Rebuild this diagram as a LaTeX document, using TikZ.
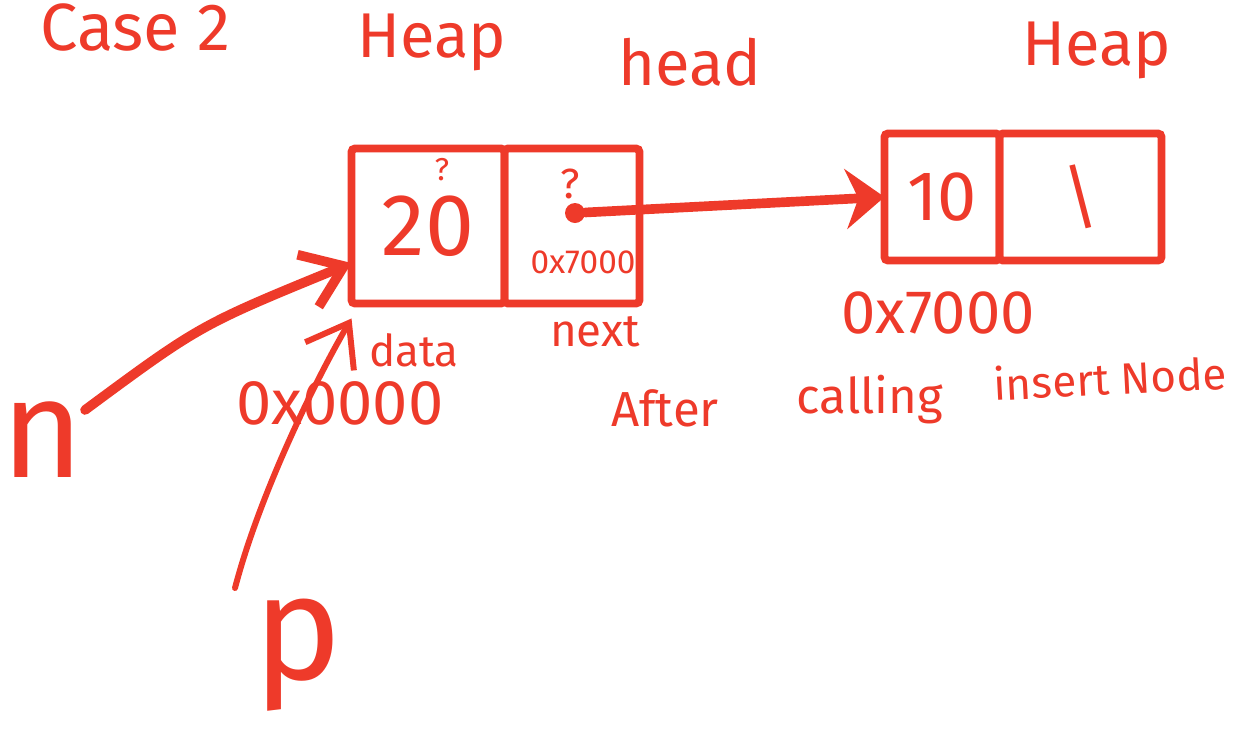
\documentclass[tikz,border=0pt]{standalone}
\usepackage{fontspec}
\setmainfont{Fira Sans}
\usepackage{xcolor}
\usepackage{tikz}
\usetikzlibrary{arrows.meta, positioning}
\definecolor{ink}{RGB}{238,58,42}
\tikzset{
    field/.style={rectangle, draw=ink, line width=4.5pt, rounded corners=2pt, inner sep=0pt, outer sep=0pt, text=ink},
    scrawl/.style={text=ink, inner sep=0pt, font=\fontsize{#1}{#1}\selectfont},
    ptrdot/.style={circle, fill=ink, minimum size=0.4cm, inner sep=0pt},
    link/.style={draw=ink, line width=5.5pt, line cap=round, -{Stealth[length=22pt, width=34pt]}},
    pointer/.style={draw=ink, line width=#1, line cap=round, -{Straight Barb[length=22pt, width=32pt]}}
}

\begin{document}
\begin{tikzpicture}[x=0.02cm, y=-0.02cm]
    \useasboundingbox (0,0) rectangle (1243,728);

    % Title
    \node[scrawl=38, anchor=base west] (title) at (40,50) {Case 2};

    % Head node
    \node[field, scrawl=50, minimum width=3.06cm, minimum height=3.1cm] (headdata) at (428,226) {20};
    \node[field, minimum width=2.7cm, minimum height=3.1cm, right=0pt of headdata] (headnext) {};
    \node[scrawl=18] (dataq) at (442,170) {?};
    \node[scrawl=24] (nextq) at (570,184) {?};
    \node[ptrdot] (headptr) at (575,213) {};
    \node[scrawl=19] (headaddr) at (583,262) {0x7000};

    % New node
    \node[field, scrawl=40, minimum width=2.3cm, minimum height=2.54cm] (newdata) at (942,197) {10};
    \node[field, scrawl=40, minimum width=3.24cm, minimum height=2.54cm, right=0pt of newdata] (newnext) {\textbackslash};

    % Labels
    \node[scrawl=36] (heapone) at (432,42) {Heap};
    \node[scrawl=36] (headlabel) at (690,62) {head};
    \node[scrawl=36] (heaptwo) at (1097,50) {Heap};
    \node[scrawl=25] (datalabel) at (414,350) {data};
    \node[scrawl=26] (nextlabel) at (595,332) {next};
    \node[scrawl=36] (headaddrout) at (340,403) {0x0000};
    \node[scrawl=35] (newaddr) at (938,313) {0x7000};
    \node[scrawl=28] (after) at (665,408) {After};
    \node[scrawl=28] (calling) at (870,400) {calling};
    \node[scrawl=25, rotate=3] (insert) at (1110,378) {insert Node};

    % Pointers
    \node[scrawl=80] (nlabel) at (43,440) {n};
    \node[scrawl=85] (plabel) at (298,655) {p};
    \coordinate (ntail) at (85,410);
    \coordinate (ptail) at (235,588);
    \draw[link] (headptr) -- (newdata.west);
    \draw[pointer=5.5pt] (ntail) .. controls (200,325) .. ([yshift=-0.74cm]headdata.west);
    \draw[pointer=3.4pt] (ptail) .. controls (258,500) and (310,390) .. ([yshift=-0.3cm]headdata.south west);
\end{tikzpicture}
\end{document}
